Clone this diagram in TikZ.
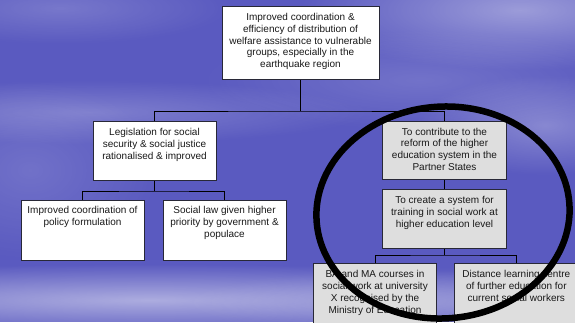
\documentclass[tikz,border=0pt]{standalone}
\usepackage{fontspec}
\setmainfont{Liberation Sans}
\usetikzlibrary{fadings}

\definecolor{skyblue}{RGB}{90,90,192}
\definecolor{boxgray}{RGB}{222,222,222}
\definecolor{boxedge}{RGB}{40,40,55}
\definecolor{inkgray}{RGB}{25,25,25}

\tikzfading[name=softblob, inner color=transparent!0, outer color=transparent!100]

% text block of fixed size, text set from the top
\newcommand{\goalbox}[3]{\parbox[t][#2][t]{#1}{\centering\rule{0pt}{14pt}#3}}

\tikzset{
  goal/.style={draw=boxedge, line width=0.8pt, fill=white, inner sep=0pt,
    anchor=north, text=inkgray, font=\fontsize{10}{11.8}\selectfont},
  goalgray/.style={goal, fill=boxgray},
  link/.style={draw=black, line width=0.8pt},
  haze/.style={fill=white, path fading=softblob},
}

\begin{document}
\begin{tikzpicture}[x=1pt, y=-1pt]
\useasboundingbox (0,0) rectangle (575,322);
\clip (0,0) rectangle (575,322);

% cloudy sky backdrop
\fill[skyblue] (0,0) rectangle (575,322);
\fill[haze, opacity=0.40] (520,10) ellipse [x radius=220, y radius=60];
\fill[haze, opacity=0.18] (60,8) ellipse [x radius=170, y radius=36];
\fill[haze, opacity=0.22] (90,112) ellipse [x radius=280, y radius=32];
\fill[haze, opacity=0.28] (545,125) ellipse [x radius=130, y radius=50];
\fill[haze, opacity=0.15] (420,80) ellipse [x radius=220, y radius=50];
\fill[haze, opacity=0.14] (30,170) ellipse [x radius=130, y radius=90];
\fill[haze, opacity=0.50] (150,300) ellipse [x radius=520, y radius=36];
\fill[haze, opacity=0.20] (480,302) ellipse [x radius=300, y radius=36];

% goal hierarchy
\node[goal] (top) at (300.5,6) {\goalbox{157pt}{73pt}{Improved coordination \&\\
  efficiency of distribution of\\ welfare assistance to vulnerable\\
  groups, especially in the\\ earthquake region}};

\node[goal] (leg) at (154.5,121) {\goalbox{123pt}{59pt}{Legislation for social\\
  security \& social justice\\ rationalised \& improved}};
\node[goal] (imp) at (82.5,199.5) {\goalbox{123pt}{60pt}{Improved coordination of\\
  policy formulation}};
\node[goal] (soc) at (224.5,199.5) {\goalbox{123pt}{60pt}{Social law given higher\\
  priority by government \&\\ populace}};

\node[goalgray] (con) at (444.5,120.7) {\goalbox{123.5pt}{58.6pt}{To contribute to the\\
  reform of the higher\\ education system in the\\ Partner States}};
\node[goalgray] (cre) at (444.5,189.3) {\goalbox{123.5pt}{59pt}{To create a system for\\
  training in social work at\\ higher education level}};
\node[goalgray] (ba) at (375,263.3) {\goalbox{123.5pt}{70pt}{BA and MA courses in\\
  social work at university\\ X recognised by the\\ Ministry of Education}};
\node[goalgray] (dis) at (516.3,263.3) {\goalbox{123.5pt}{70pt}{Distance learning centre\\
  of further education for\\ current social workers}};

% tree connectors
\coordinate (j1) at (300.5,111);
\coordinate (j2) at (154.5,191);
\coordinate (j3) at (444.5,255);
\draw[link] (top.south) -- (j1);
\draw[link] (leg.north) |- (j1) -| (con.north);
\draw[link] (leg.south) -- (j2);
\draw[link] (imp.north) |- (j2) -| (soc.north);
\draw[link] (con.south) -- (cre.north);
\draw[link] (cre.south) -- (j3);
\draw[link] (ba.north) |- (j3) -| (dis.north);

% highlight ring round the higher-education branch
\draw[line width=6.5pt, rotate around={4:(443,212.5)}]
  (443,212.5) ellipse [x radius=126.7, y radius=105.9];
\end{tikzpicture}
\end{document}
